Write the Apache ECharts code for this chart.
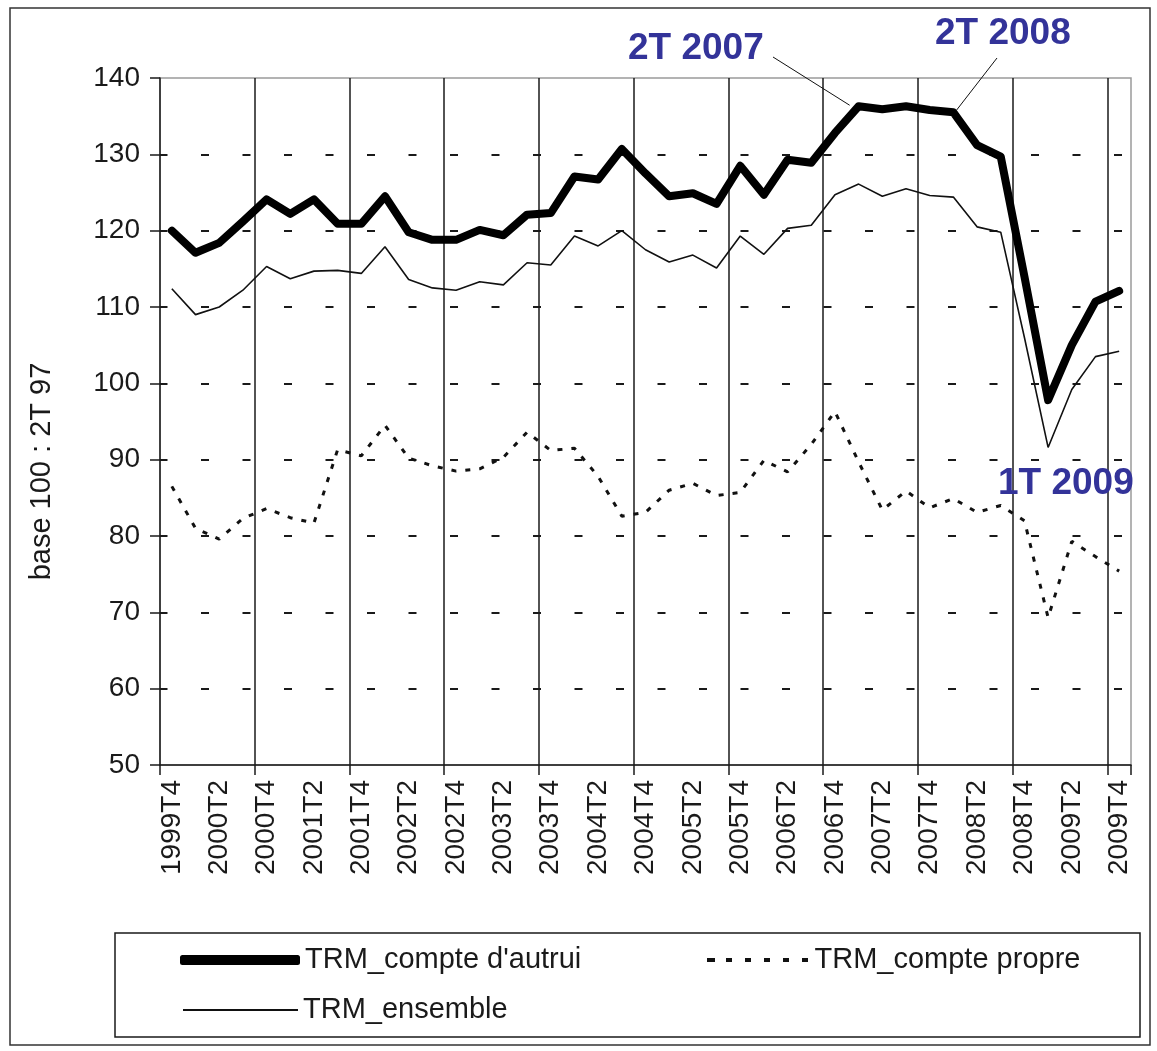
<!DOCTYPE html>
<html>
<head>
<meta charset="utf-8">
<title>TRM</title>
<script src="https://cdn.jsdelivr.net/npm/echarts@6/dist/echarts.min.js"></script>
<style>
  html, body { margin: 0; padding: 0; background: #fff; }
  #chart { width: 1157px; height: 1051px; }
</style>
</head>
<body>
<div id="chart"></div>
<script>
// quarters, 1999T4 -> 2009T4
const categories = [
  '1999T4',
  '2000T1', '2000T2', '2000T3', '2000T4',
  '2001T1', '2001T2', '2001T3', '2001T4',
  '2002T1', '2002T2', '2002T3', '2002T4',
  '2003T1', '2003T2', '2003T3', '2003T4',
  '2004T1', '2004T2', '2004T3', '2004T4',
  '2005T1', '2005T2', '2005T3', '2005T4',
  '2006T1', '2006T2', '2006T3', '2006T4',
  '2007T1', '2007T2', '2007T3', '2007T4',
  '2008T1', '2008T2', '2008T3', '2008T4',
  '2009T1', '2009T2', '2009T3', '2009T4'
];

// TRM_compte d'autrui (thick)
const autrui = [
  120.0,
  117.1, 118.4, 121.2, 124.1,
  122.2, 124.1, 120.9, 120.9,
  124.5, 119.8, 118.8, 118.8,
  120.1, 119.4, 122.1, 122.3,
  127.1, 126.7, 130.7, 127.5,
  124.5, 124.9, 123.5, 128.5,
  124.7, 129.3, 128.9, 132.8,
  136.3, 135.9, 136.3, 135.8,
  135.5, 131.2, 129.7, 114.0,
  97.8, 105.0, 110.7, 112.1
];

// TRM_compte propre (dashed)
const propre = [
  86.5,
  81.0, 79.6, 82.3, 83.6,
  82.4, 81.7, 91.3, 90.5,
  94.5, 90.2, 89.2, 88.5,
  88.8, 90.3, 93.6, 91.2,
  91.5, 87.8, 82.6, 83.1,
  86.0, 86.9, 85.3, 85.7,
  89.9, 88.4, 92.0, 96.3,
  89.7, 83.4, 85.9, 83.7,
  84.9, 83.1, 84.0, 82.0,
  69.3, 79.3, 77.3, 75.4
];

// TRM_ensemble (thin)
const ensemble = [
  112.4,
  109.0, 110.0, 112.2, 115.3,
  113.7, 114.7, 114.8, 114.4,
  117.9, 113.6, 112.5, 112.2,
  113.3, 112.9, 115.8, 115.5,
  119.3, 118.0, 120.0, 117.5,
  115.9, 116.8, 115.1, 119.3,
  116.9, 120.3, 120.7, 124.7,
  126.1, 124.5, 125.5, 124.6,
  124.4, 120.5, 119.8, 106.0,
  91.6, 99.2, 103.5, 104.2
];

const yMin = 50;
const yMax = 140;
const yStep = 10;

const seriesNames = ["TRM_compte d'autrui", 'TRM_compte propre', 'TRM_ensemble'];
const notes = ['2T 2007', '2T 2008', '1T 2009'];

const FONT = '"Liberation Sans", Arial, sans-serif';
const INK = '#1a1a1a';

// legend sample for the dashed series: six short dashes
const DASH_ICON = 'path://M0 0h8v4h-8zM19 0h6v4h-6zM38 0h6v4h-6zM57 0h6v4h-6zM76 0h6v4h-6zM95 0h6v4h-6z';

const chart = echarts.init(document.getElementById('chart'));

const legendText = { fontFamily: FONT, fontSize: 29, color: INK, lineHeight: 34 };

const option = {
  animation: false,
  backgroundColor: '#fff',
  grid: {
    left: 160,
    top: 78,
    width: 971,
    height: 687,
    show: true,
    borderColor: '#9a9a9a',
    borderWidth: 1.5
  },
  xAxis: [
    {
      type: 'category',
      data: categories,
      boundaryGap: true,
      axisLine: { lineStyle: { color: INK, width: 1.5 } },
      axisTick: { show: true, interval: 3, length: 10, lineStyle: { color: INK, width: 1.5 } },
      axisLabel: {
        interval: 1,
        rotate: 90,
        margin: 15,
        fontFamily: FONT,
        fontSize: 28,
        color: INK
      },
      splitLine: { show: false }
    },
    {
      // hidden helper axis: one unit per quarter, solid line every year
      type: 'value',
      position: 'top',
      min: 0,
      max: categories.length,
      interval: 4,
      axisLine: { show: false },
      axisTick: { show: false },
      axisLabel: { show: false },
      splitLine: {
        show: true,
        showMinLine: false,
        showMaxLine: false,
        lineStyle: { color: INK, width: 1.5 }
      }
    }
  ],
  yAxis: {
    type: 'value',
    min: yMin,
    max: yMax,
    interval: yStep,
    name: 'base 100 : 2T 97',
    nameLocation: 'middle',
    nameRotate: 90,
    nameGap: 104,
    nameTextStyle: { fontFamily: FONT, fontSize: 29, color: INK, padding: [0, 100, 0, 0] },
    axisLine: { show: true, lineStyle: { color: INK, width: 1.5 } },
    axisTick: { show: true, length: 10, lineStyle: { color: INK, width: 1.5 } },
    axisLabel: { margin: 20, fontFamily: FONT, fontSize: 28, color: INK },
    splitLine: {
      show: true,
      showMinLine: false,
      showMaxLine: false,
      lineStyle: { color: INK, width: 2, type: [8, 33.5], dashOffset: 0.5 }
    }
  },
  legend: [
    {
      data: [{ name: seriesNames[0], icon: 'roundRect' }], left: 175, top: 938,
      itemWidth: 120, itemHeight: 10, textStyle: legendText
    },
    {
      data: [{ name: seriesNames[1], icon: DASH_ICON }], left: 702, top: 938,
      itemWidth: 104, itemHeight: 4, textStyle: legendText
    },
    {
      data: [{ name: seriesNames[2], icon: 'rect' }], left: 178, top: 988,
      itemWidth: 115, itemHeight: 2, textStyle: legendText
    }
  ],
  series: [
    {
      name: seriesNames[1],
      type: 'line',
      data: propre,
      symbol: 'none',
      color: '#111',
      z: 2,
      lineStyle: { color: '#111', width: 3, type: [5, 9] }
    },
    {
      name: seriesNames[2],
      type: 'line',
      data: ensemble,
      symbol: 'none',
      color: '#111',
      z: 3,
      lineStyle: { color: '#111', width: 1.6 }
    },
    {
      name: seriesNames[0],
      type: 'line',
      data: autrui,
      symbol: 'none',
      color: '#000',
      z: 4,
      lineStyle: { color: '#000', width: 8, cap: 'round', join: 'round' }
    }
  ]
};

chart.setOption(option);

// leader lines point at the data, text sits where the original put it
const p2007 = chart.convertToPixel({ xAxisIndex: 0, yAxisIndex: 0 }, [29, autrui[29]]);
const p2008 = chart.convertToPixel({ xAxisIndex: 0, yAxisIndex: 0 }, [33, autrui[33]]);

const noteStyle = {
  font: 'bold 37px "Liberation Sans", Arial, sans-serif',
  fill: '#333399',
  textVerticalAlign: 'middle'
};

chart.setOption({
  graphic: [
    {
      type: 'rect', silent: true, z: 0,
      shape: { x: 10, y: 8, width: 1140, height: 1037 },
      style: { fill: 'none', stroke: '#333', lineWidth: 1.5 }
    },
    {
      type: 'rect', silent: true, z: 0,
      shape: { x: 115, y: 933, width: 1025, height: 104 },
      style: { fill: 'none', stroke: INK, lineWidth: 1.5 }
    },
    { type: 'text', x: 628, y: 49, style: Object.assign({ text: notes[0] }, noteStyle) },
    { type: 'text', x: 935, y: 34, style: Object.assign({ text: notes[1] }, noteStyle) },
    { type: 'text', x: 998, y: 484, style: Object.assign({ text: notes[2] }, noteStyle) },
    {
      type: 'line', silent: true, z: 10,
      shape: { x1: 773, y1: 57, x2: p2007[0] - 9, y2: p2007[1] - 1 },
      style: { stroke: '#111', lineWidth: 1 }
    },
    {
      type: 'line', silent: true, z: 10,
      shape: { x1: 997, y1: 58, x2: p2008[0] + 3, y2: p2008[1] - 2 },
      style: { stroke: '#111', lineWidth: 1 }
    }
  ]
});
</script>
</body>
</html>
